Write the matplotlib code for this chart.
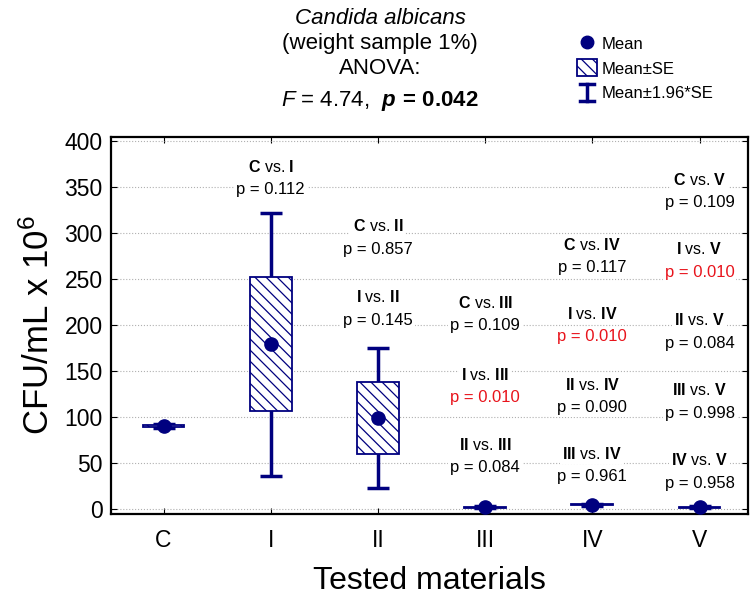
import numpy as np
import matplotlib
matplotlib.use("Agg")
import matplotlib.pyplot as plt
from matplotlib.patches import Rectangle, Patch
from matplotlib.lines import Line2D
from matplotlib.legend_handler import HandlerBase

plt.rcParams["font.family"] = ["Liberation Sans", "DejaVu Sans"]
plt.rcParams["mathtext.fontset"] = "custom"
plt.rcParams["mathtext.rm"] = "Liberation Sans"
plt.rcParams["mathtext.it"] = "Liberation Sans:italic"
plt.rcParams["mathtext.bf"] = "Liberation Sans:bold"
plt.rcParams["mathtext.bfit"] = "Liberation Sans:italic:bold"
plt.rcParams["hatch.linewidth"] = 0.9

# data
groups = ["C", "I", "II", "III", "IV", "V"]
means = [90, 179, 99, 2, 4.5, 2]
se = [1.0, 73, 39, 0.5, 0.7, 0.5]

# pairwise comparisons: group index, label, p value, y of label
comp_group = [1, 2, 2, 3, 3, 3, 4, 4, 4, 4, 5, 5, 5, 5, 5]
comp_label = ["C vs. I", "C vs. II", "I vs. II", "C vs. III", "I vs. III", "II vs. III",
              "C vs. IV", "I vs. IV", "II vs. IV", "III vs. IV",
              "C vs. V", "I vs. V", "II vs. V", "III vs. V", "IV vs. V"]
comp_p = ["0.112", "0.857", "0.145", "0.109", "0.010", "0.084",
          "0.117", "0.010", "0.090", "0.961",
          "0.109", "0.010", "0.084", "0.998", "0.958"]
comp_y = [372, 307, 230, 224, 146, 70, 287, 212, 135, 60, 358, 282, 205, 129, 53]

navy = "#00007f"
red = "#e8141c"
hatch = "\\\\\\"


class IBeamHandler(HandlerBase):
    def create_artists(self, legend, orig_handle, xdescent, ydescent, width, height, fontsize, trans):
        cx = -xdescent + width / 2
        y0 = -ydescent
        y1 = -ydescent + height
        cw = width * 0.35
        v = Line2D([cx, cx], [y0, y1], color=navy, lw=2.5, transform=trans)
        t = Line2D([cx - cw, cx + cw], [y1, y1], color=navy, lw=2.5, transform=trans)
        b = Line2D([cx - cw, cx + cw], [y0, y0], color=navy, lw=2.5, transform=trans)
        return [v, t, b]


def bold_label(s):
    a, b = s.split(" vs. ")
    return r"$\mathbf{" + a + r"}$ vs. $\mathbf{" + b + "}$"


fig = plt.figure(figsize=(7.5, 5.99), dpi=100)
ax = fig.add_axes([0.148, 0.142, 0.849, 0.629])

x = np.arange(len(groups))
means = np.array(means)
se = np.array(se)
box_w = 0.39

ax.errorbar(x, means, yerr=1.96 * se, fmt="none", ecolor=navy, elinewidth=2.5,
            capsize=8, capthick=2.5, zorder=3)
for xi, m, s in zip(x, means, se):
    ax.add_patch(Rectangle((xi - box_w / 2, m - s), box_w, 2 * s, facecolor="white",
                           edgecolor=navy, hatch=hatch, lw=1.3, zorder=4))
ax.plot(x, means, "o", color=navy, ms=9.5, zorder=5)

# comparison labels
for g, lab, p, yv in zip(comp_group, comp_label, comp_p, comp_y):
    col = red if p == "0.010" else "black"
    bb = dict(facecolor="white", edgecolor="none", pad=1.5)
    ax.text(g, yv, bold_label(lab), ha="center", va="center", fontsize=11.5, bbox=bb, zorder=6)
    ax.text(g, yv - 25, "p = " + p, ha="center", va="center", fontsize=12, color=col,
            bbox=bb, zorder=6)

ax.set_xlim(-0.49, 5.45)
ax.set_ylim(-5.4, 404)
ax.set_yticks(np.arange(0, 401, 50))
ax.set_xticks(x)
ax.set_xticklabels(groups)
ax.tick_params(axis="both", direction="in", top=True, right=True, labelsize=16.5, length=4)
ax.tick_params(axis="x", pad=11)
ax.tick_params(axis="y", pad=6)
ax.yaxis.grid(True, linestyle=":", color="#b0b0b0", lw=0.8)
for sp in ax.spines.values():
    sp.set_linewidth(1.6)
ax.set_ylabel(r"CFU/mL x 10$^6$", fontsize=25, labelpad=6)
ax.set_xlabel("Tested materials", fontsize=23, labelpad=10)

# title block
cx = 0.507
fig.text(cx, 1 - 18 / 599, "Candida albicans", ha="center", va="center", fontsize=16, style="italic")
fig.text(cx, 1 - 43 / 599, "(weight sample 1%)", ha="center", va="center", fontsize=16)
fig.text(cx, 1 - 68 / 599, "ANOVA:", ha="center", va="center", fontsize=16)
fig.text(cx, 1 - 101 / 599, r"$\mathit{F}$ = 4.74,  $\mathbfit{p}\,\mathbf{=}\,\mathbf{0.042}$",
         ha="center", va="center", fontsize=16)

handles = [Line2D([], [], marker="o", color=navy, ls="none", ms=9),
           Patch(facecolor="white", edgecolor=navy, hatch=hatch, lw=1.3),
           object()]
labels = ["Mean", "Mean\u00b1SE", "Mean\u00b11.96*SE"]
fig.legend(handles, labels, loc="upper left", bbox_to_anchor=(565 / 750, 1 - 23 / 599),
           frameon=False, fontsize=12, handlelength=1.2, handleheight=1.2,
           handletextpad=0.3, labelspacing=0.45, borderpad=0.2,
           handler_map={object: IBeamHandler()})

fig.savefig("out.png", dpi=100)
